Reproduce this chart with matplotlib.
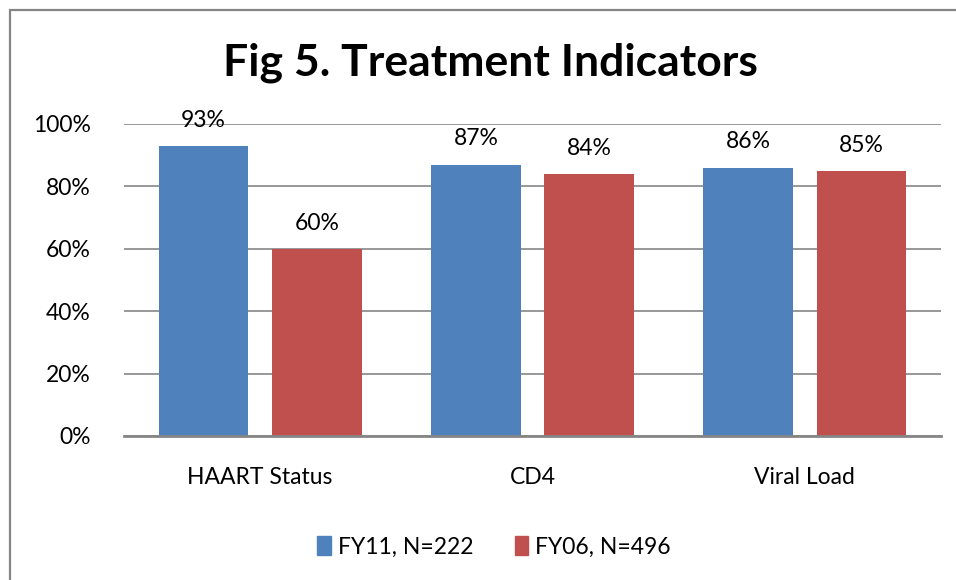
import matplotlib.pyplot as plt
from matplotlib.patches import Rectangle, Patch
import numpy as np

plt.rcParams['font.family'] = ['Lato', 'DejaVu Sans']

categories = ['HAART Status', 'CD4', 'Viral Load']
fy11 = [93, 87, 86]
fy06 = [60, 84, 85]
series_names = ['FY11, N=222', 'FY06, N=496']
blue = '#4f81bd'
red = '#c0504d'
grid_gray = '#868686'

fig = plt.figure(figsize=(9.56, 5.8), dpi=100)

# outer chart frame (cut off on the right and bottom like the source)
fig.patches.append(Rectangle((10 / 956, -0.1), 1.0, 0.1 + 1 - 10 / 580,
                             transform=fig.transFigure, fill=False,
                             edgecolor=grid_gray, linewidth=1.6))

ax = fig.add_axes([124 / 956, 144 / 580, 817 / 956, 312 / 580])
x = np.arange(len(categories))
w = 0.33
off = 0.208
b1 = ax.bar(x - off, np.array(fy11) / 100, w, color=blue, zorder=3)
b2 = ax.bar(x + off, np.array(fy06) / 100, w, color=red, zorder=3)

for bars, vals in ((b1, fy11), (b2, fy06)):
    for b, v in zip(bars, vals):
        ax.annotate(f'{v}%', (b.get_x() + b.get_width() / 2, b.get_height()),
                    xytext=(0, 11), textcoords='offset points',
                    ha='center', va='bottom', fontsize=16.5)

ax.set_xlim(-0.5, 2.5)
ax.set_ylim(0, 1)
ax.set_yticks(np.arange(0, 1.01, 0.2))
ax.set_yticklabels([f'{int(round(t * 100))}%' for t in np.arange(0, 1.01, 0.2)])
ax.set_xticks(x)
ax.set_xticklabels(categories)
ax.tick_params(axis='y', length=0, pad=24, labelsize=16.5)
ax.tick_params(axis='x', length=0, pad=22, labelsize=16.5)
ax.yaxis.grid(True, color=grid_gray, linewidth=1.2, zorder=0)
for s in ['top', 'right', 'left']:
    ax.spines[s].set_visible(False)
ax.spines['bottom'].set_color(grid_gray)
ax.spines['bottom'].set_linewidth(2)
ax.spines['bottom'].set_zorder(4)

fig.text(490 / 956, 1 - 63 / 580, 'Fig 5. Treatment Indicators',
         ha='center', va='center', fontsize=32, fontweight='bold')

handles = [Patch(color=blue), Patch(color=red)]
fig.legend(handles, series_names, loc='center', bbox_to_anchor=(494 / 956, 1 - 547 / 580),
           ncol=2, frameon=False, fontsize=16.5, handlelength=0.6, handleheight=0.9,
           handletextpad=0.3, columnspacing=1.8)

fig.savefig('out.png', dpi=100)
